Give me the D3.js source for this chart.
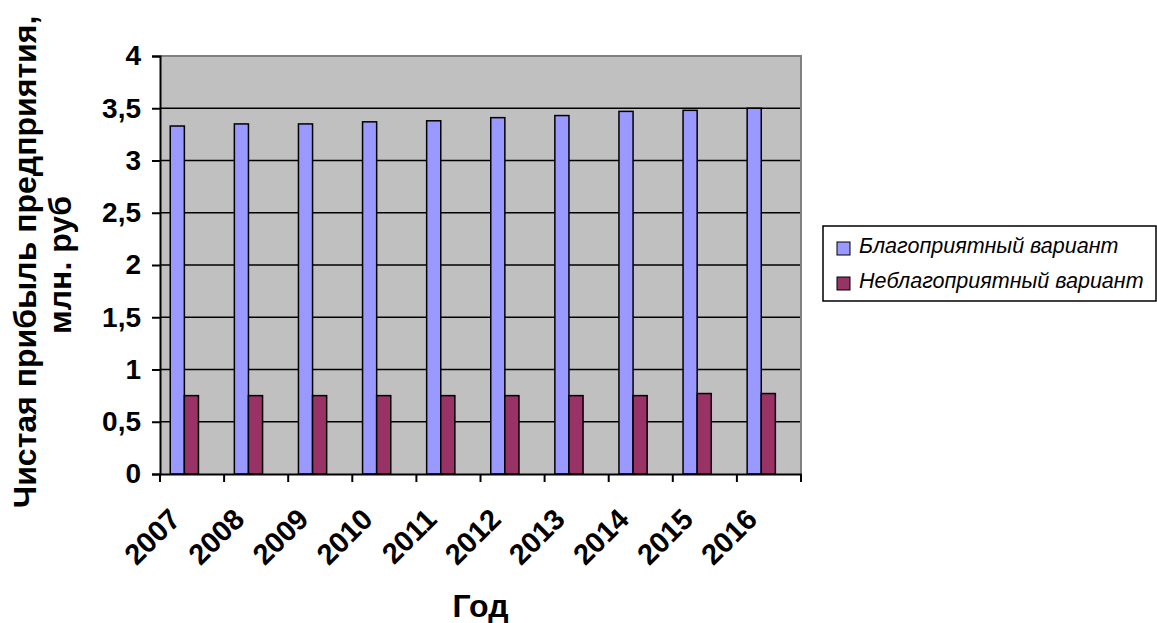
<!DOCTYPE html>
<html>
<head>
<meta charset="utf-8">
<script src="https://cdn.jsdelivr.net/npm/d3@7"></script>
<style>
  html, body { margin: 0; padding: 0; background: #fff; }
  svg { display: block; }
  text { font-family: "Liberation Sans", Arial, sans-serif; }
</style>
</head>
<body>
<svg id="chart" width="1157" height="623"></svg>
<script>
// Net profit forecast, two scenarios (mln. rub)
const years = ["2007", "2008", "2009", "2010", "2011", "2012", "2013", "2014", "2015", "2016"];
const favorable = [3.33, 3.35, 3.35, 3.37, 3.38, 3.41, 3.43, 3.47, 3.48, 3.50];
const unfavorable = [0.75, 0.75, 0.75, 0.75, 0.75, 0.75, 0.75, 0.75, 0.77, 0.77];
const seriesNames = ["Благоприятный вариант", "Неблагоприятный вариант"];
const seriesColors = ["#9999FF", "#993366"];
const yTicks = [0, 0.5, 1, 1.5, 2, 2.5, 3, 3.5, 4];
const yTitleLines = ["Чистая прибыль предприятия,", "млн. руб"];
const xTitle = "Год";

const svg = d3.select("#chart");
const plot = { left: 160, right: 801, top: 56, bottom: 474 };

const y = d3.scaleLinear().domain([0, 4]).range([plot.bottom, plot.top]);
const x0 = d3.scaleBand().domain(years).range([plot.left, plot.right]).padding(0);
const bw = x0.bandwidth();
const x1 = d3.scaleBand().domain([0, 1]).range([bw * 0.16, bw * 0.6]).padding(0);

// plot background
svg.append("rect")
  .attr("x", plot.left).attr("y", plot.top)
  .attr("width", plot.right - plot.left).attr("height", plot.bottom - plot.top)
  .attr("fill", "#C0C0C0");

// horizontal gridlines
svg.append("g")
  .selectAll("line")
  .data(yTicks.filter(d => d > 0 && d < 4))
  .join("line")
  .attr("x1", plot.left).attr("x2", plot.right)
  .attr("y1", d => y(d)).attr("y2", d => y(d))
  .attr("stroke", "#000").attr("stroke-width", 1.6);

// top and right frame of the plot area
svg.append("path")
  .attr("d", `M${plot.left},${y(4)}H${plot.right}V${plot.bottom}`)
  .attr("fill", "none").attr("stroke", "#808080").attr("stroke-width", 2);

// bars
const rows = years.map((yr, i) => ({ year: yr, values: [favorable[i], unfavorable[i]] }));
const groups = svg.append("g").selectAll("g")
  .data(rows)
  .join("g")
  .attr("transform", d => `translate(${x0(d.year)},0)`);
groups.selectAll("rect")
  .data(d => d.values.map((v, k) => ({ k, v })))
  .join("rect")
  .attr("x", d => x1(d.k))
  .attr("width", x1.bandwidth())
  .attr("y", d => y(d.v))
  .attr("height", d => y(0) - y(d.v))
  .attr("fill", d => seriesColors[d.k])
  .attr("stroke", "#000")
  .attr("stroke-width", 1.5);

// y axis
const fmt = d => d3.format(".1~f")(d).replace(".", ",");
const yAxis = svg.append("g")
  .attr("transform", `translate(${plot.left},0)`)
  .call(d3.axisLeft(y).tickValues(yTicks).tickSize(8).tickPadding(11).tickFormat(fmt));
yAxis.select(".domain").attr("stroke", "#000").attr("stroke-width", 2);
yAxis.selectAll(".tick line").attr("stroke", "#000").attr("stroke-width", 2);
yAxis.selectAll(".tick text")
  .attr("font-size", 28).attr("font-weight", "bold").attr("fill", "#000")
  .style("font-family", '"Liberation Sans", Arial, sans-serif');

// x axis
const xAxis = svg.append("g")
  .attr("transform", `translate(0,${plot.bottom})`)
  .call(d3.axisBottom(x0).tickSize(0).tickPadding(0));
xAxis.select(".domain").attr("stroke", "#000").attr("stroke-width", 2);
xAxis.selectAll(".tick text")
  .attr("x", 0).attr("y", 0).attr("dy", null)
  .attr("transform", "translate(-10,47) rotate(-45)")
  .attr("text-anchor", "end")
  .attr("font-size", 29).attr("font-weight", "bold").attr("fill", "#000")
  .style("font-family", '"Liberation Sans", Arial, sans-serif');
// tick marks at category boundaries
xAxis.append("g")
  .selectAll("line")
  .data(years.map(d => x0(d)).concat([x0.range()[1]]))
  .join("line")
  .attr("x1", d => d).attr("x2", d => d)
  .attr("y1", 0).attr("y2", 8)
  .attr("stroke", "#000").attr("stroke-width", 2);

// axis titles
svg.append("text")
  .attr("x", (plot.left + plot.right) / 2).attr("y", 617)
  .attr("text-anchor", "middle")
  .attr("font-size", 32).attr("font-weight", "bold")
  .text(xTitle);

const yTitle = svg.append("text")
  .attr("transform", "translate(36,262) rotate(-90)")
  .attr("text-anchor", "middle")
  .attr("font-size", 32).attr("font-weight", "bold");
yTitle.selectAll("tspan")
  .data(yTitleLines)
  .join("tspan")
  .attr("x", (d, i) => i === 0 ? 0 : -3)
  .attr("y", (d, i) => i * 35)
  .text(d => d);

// legend
const legend = svg.append("g");
legend.append("rect")
  .attr("x", 823).attr("y", 226).attr("width", 333).attr("height", 75)
  .attr("fill", "#fff").attr("stroke", "#000").attr("stroke-width", 1.5);
const items = legend.selectAll("g.item")
  .data(seriesNames)
  .join("g").attr("class", "item")
  .attr("transform", (d, i) => `translate(837,${242 + i * 35})`);
items.append("rect")
  .attr("width", 13).attr("height", 13)
  .attr("fill", (d, i) => seriesColors[i])
  .attr("stroke", "#000").attr("stroke-width", 1);
items.append("text")
  .attr("x", 22).attr("y", 11)
  .attr("font-size", 21.5).attr("font-style", "italic")
  .text(d => d);
</script>
</body>
</html>
